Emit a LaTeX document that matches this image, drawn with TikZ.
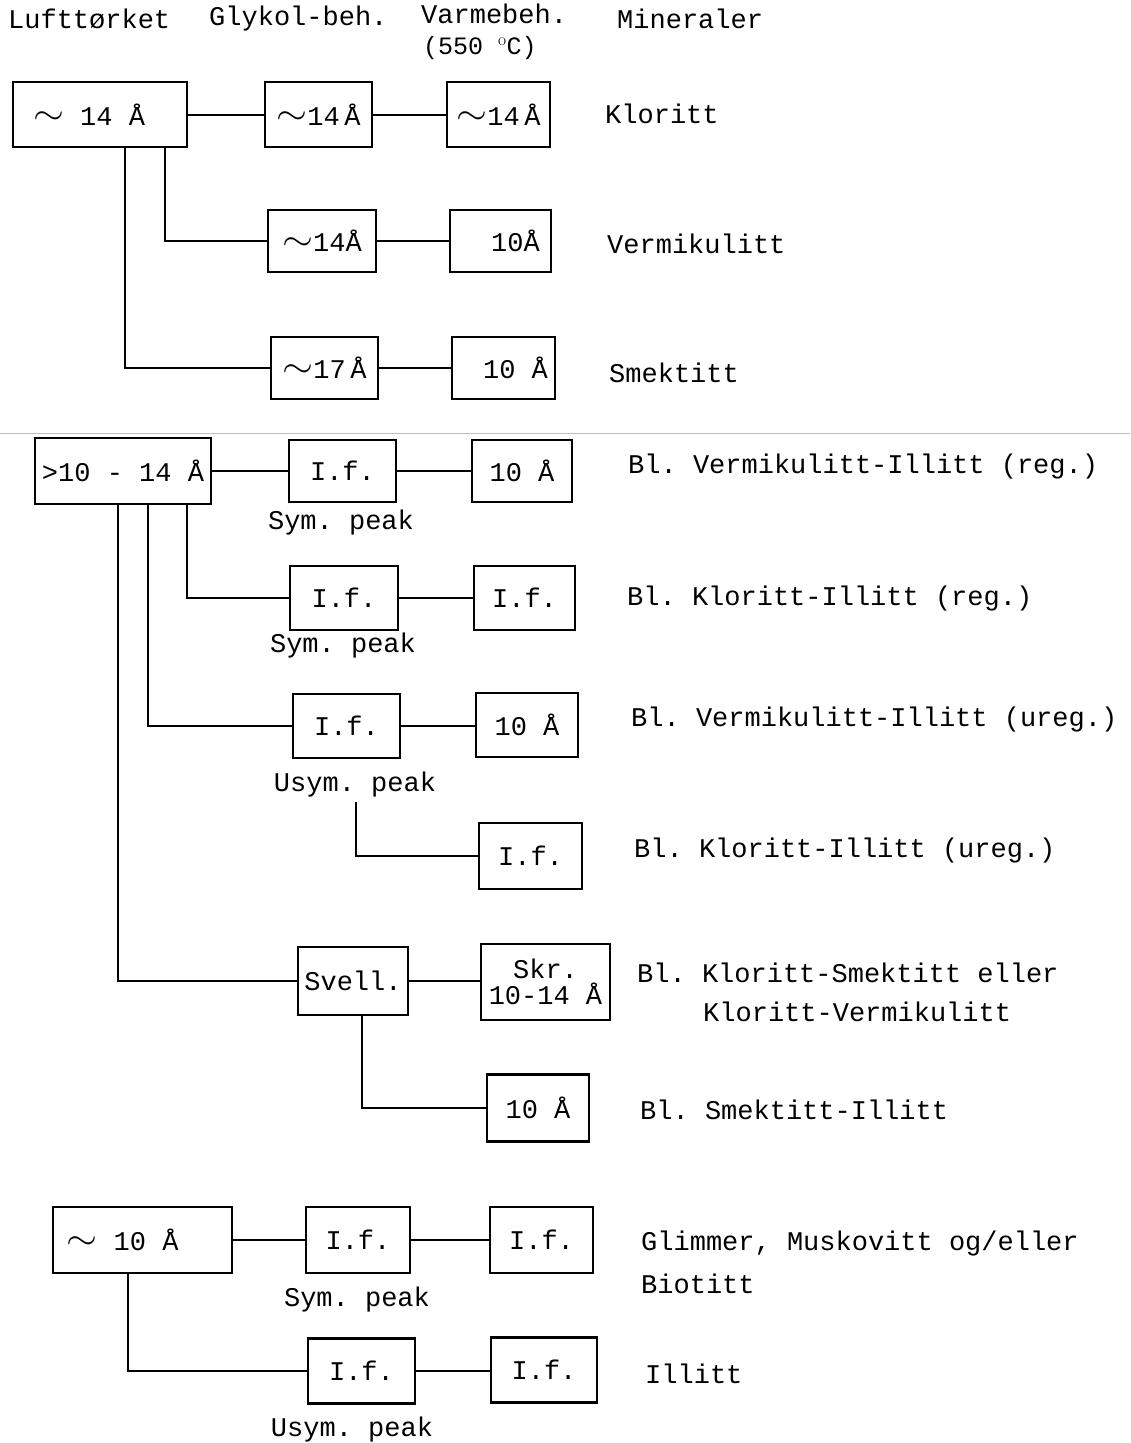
\documentclass[tikz,border=0pt]{standalone}
\usepackage{fontspec}
\setmonofont{Liberation Mono}
\newcommand{\tld}{\raisebox{1pt}{\scalebox{1.6}[1.4]{$\sim$}}}
\begin{document}
\begin{tikzpicture}[x=1pt,y=-1pt,
  every node/.style={font=\ttfamily\fontsize{27}{30}\selectfont, inner sep=0pt},
  box/.style={draw, line width=2.6pt, rectangle, align=center},
  conn/.style={draw, line width=2pt},
  lbl/.style={anchor=west},
  seam/.style={draw=black!25, line width=1pt}]
\useasboundingbox (0,0) rectangle (1130,1443);
\fill[white] (0,0) rectangle (1130,1443);
% headers
\node[lbl] (h1) at (8,19) {Lufttørket};
\node[lbl] (h2) at (209,19) {Glykol-beh.};
\node[lbl] (h3) at (421,14) {Varmebeh.};
\node[lbl, font=\ttfamily\fontsize{25}{28}\selectfont] (h3b) at (423,48) {(550 $^{\mathrm{o}}$C)};
\node[lbl] (h4) at (617,19) {Mineraler};
% section 1
\node[box, minimum width=174, minimum height=65] (B1) at (100,114.5) {\tld\ 14 Å\hspace{22pt}};
\node[box, minimum width=107, minimum height=65] (B2) at (318.5,114.5) {\tld14\,Å};
\node[box, minimum width=103, minimum height=65] (B3) at (498.5,114.5) {\tld14\,Å};
\node[lbl] (L1) at (605,114) {Kloritt};
\node[box, minimum width=108, minimum height=62] (B4) at (322,241) {\tld14Å};
\node[box, minimum width=101, minimum height=62] (B5) at (500.5,241) {\hspace{30pt}10Å};
\node[lbl] (L2) at (607,244) {Vermikulitt};
\node[box, minimum width=107, minimum height=62] (B6) at (324.5,368) {\tld17\,Å};
\node[box, minimum width=103, minimum height=62] (B7) at (503.5,368) {\hspace{24pt}10 Å};
\node[lbl] (L3) at (609,373) {Smektitt};
\draw[conn] (B1) -- (B2);
\draw[conn] (B2) -- (B3);
\draw[conn] ([xshift=65pt]B1.south) |- (B4.west);
\draw[conn] ([xshift=25pt]B1.south) |- (B6.west);
\draw[conn] (B4) -- (B5);
\draw[conn] (B6) -- (B7);
% seam
\coordinate (s1) at (0,433);
\coordinate (s2) at (1130,433);
\draw[seam] (s1) -- (s2);
% section 2
\node[box, minimum width=176, minimum height=66] (C1) at (123,471) {>10 - 14 Å};
\node[box, minimum width=107, minimum height=62] (C2) at (342.5,471) {I.f.};
\node[box, minimum width=100, minimum height=62] (C3) at (522,471) {10 Å};
\node (S1) at (341,523) {Sym. peak};
\node[lbl] (L4) at (628,467) {Bl. Vermikulitt-Illitt (reg.)};
\draw[conn] (C1) -- (C2);
\draw[conn] (C2) -- (C3);
\node[box, minimum width=108, minimum height=64] (D1) at (344,598) {I.f.};
\node[box, minimum width=101, minimum height=64] (D2) at (524.5,598) {I.f.};
\node (S2) at (343,646) {Sym. peak};
\node[lbl] (L5) at (627,599) {Bl. Kloritt-Illitt (reg.)};
\draw[conn] ([xshift=64pt]C1.south) |- (D1.west);
\draw[conn] (D1) -- (D2);
\node[box, minimum width=107, minimum height=64] (E1) at (346.5,726) {I.f.};
\node[box, minimum width=102, minimum height=64] (E2) at (527,725) {10 Å};
\node (S3) at (355,785) {Usym. peak};
\node[lbl] (L6) at (631,720) {Bl. Vermikulitt-Illitt (ureg.)};
\draw[conn] ([xshift=25pt]C1.south) |- (E1.west);
\draw[conn] (E1.east) -- (E1.east -| E2.west);
\node[box, minimum width=103, minimum height=66] (F1) at (530.5,856) {I.f.};
\node[lbl] (L7) at (634,851) {Bl. Kloritt-Illitt (ureg.)};
\coordinate (u1) at (356,802);
\draw[conn] (u1) |- (F1.west);
\node[box, minimum width=110, minimum height=68] (G1) at (353,981) {Svell.};
\node[box, minimum width=129, minimum height=76] (G2) at (545.5,982) {Skr.\\[-4pt]10-14 Å};
\node[lbl] (L8) at (637,973) {Bl. Kloritt-Smektitt eller};
\node[lbl] (L8b) at (703,1012) {Kloritt-Vermikulitt};
\draw[conn] ([xshift=-5pt]C1.south) |- (G1.west);
\draw[conn] (G1.east) -- (G1.east -| G2.west);
\node[box, minimum width=102, minimum height=67] (H1) at (538,1108) {10 Å};
\node[lbl] (L9) at (640,1110) {Bl. Smektitt-Illitt};
\draw[conn] ([xshift=9pt]G1.south) |- (H1.west);
% section 3
\node[box, minimum width=179, minimum height=66] (J1) at (142.5,1240) {\tld\ 10 Å\hspace{40pt}};
\node[box, minimum width=104, minimum height=66] (J2) at (358,1240) {I.f.};
\node[box, minimum width=103, minimum height=66] (J3) at (541.5,1240) {I.f.};
\node (S4) at (357,1300) {Sym. peak};
\node[lbl] (L10) at (641,1243) {Glimmer, Muskovitt og/eller};
\node[lbl] (L10b) at (641,1284) {Biotitt};
\draw[conn] (J1) -- (J2);
\draw[conn] (J2) -- (J3);
\node[box, minimum width=107, minimum height=65] (K1) at (361.5,1371) {I.f.};
\node[box, minimum width=106, minimum height=65] (K2) at (544,1370) {I.f.};
\node (S5) at (352,1430) {Usym. peak};
\node[lbl] (L11) at (645,1374) {Illitt};
\draw[conn] ([xshift=-14.5pt]J1.south) |- (K1.west);
\draw[conn] (K1.east) -- (K1.east -| K2.west);
\end{tikzpicture}
\end{document}
